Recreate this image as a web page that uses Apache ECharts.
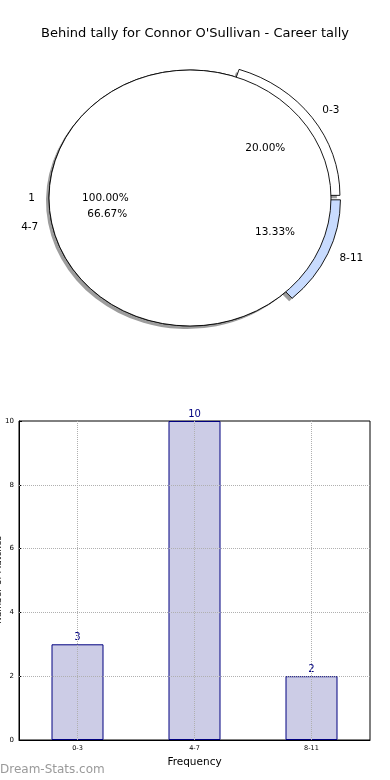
<!DOCTYPE html>
<html>
<head>
<meta charset="utf-8">
<script src="https://cdn.jsdelivr.net/npm/echarts@6/dist/echarts.min.js"></script>
<style>
html,body{margin:0;padding:0;background:#fff;}
#chart{width:390px;height:780px;}
</style>
</head>
<body>
<div id="chart"></div>
<script>
// ---- data ----
const chartTitle = "Behind tally for Connor O'Sullivan - Career tally";
const pieCategories = ['0-3', '4-7', '8-11'];
const pieValues = [3, 10, 2];
const pieExploded = [true, false, true];
const pieColors = ['#ffffff', '#ffffff', '#c8dbfe'];
const innerCategories = ['1'];
const innerValues = [1];
const barCategories = ['0-3', '4-7', '8-11'];
const barValues = [3, 10, 2];
const yTicks = [0, 2, 4, 6, 8, 10];
const yAxisName = 'Number of Matches';
const xAxisName = 'Frequency';
const watermark = 'Dream-Stats.com';

// ---- geometry / style ----
const FONT = 'DejaVu Sans';
const CX = 190, CY = 198, RX = 141, RY = 128;
const SHAPE_EXPLODE = 0.035, GROW = 0.035, LABEL_EXPLODE = 0.06;
const SH_DX = -3, SH_DY = 3;

function angles(values, i) {
  const total = values.reduce((a, b) => a + b, 0);
  let before = 0;
  for (let k = 0; k < i; k++) before += values[k];
  const t1 = before / total * Math.PI * 2;
  const t2 = (before + values[i]) / total * Math.PI * 2;
  return [t1, t2, total];
}
function wedgePath(ox, oy, rx, ry, t1, t2) {
  if (t2 - t1 >= Math.PI * 2 - 1e-9) {
    return `M ${ox + rx} ${oy} A ${rx} ${ry} 0 1 0 ${ox - rx} ${oy} A ${rx} ${ry} 0 1 0 ${ox + rx} ${oy} Z`;
  }
  const x1 = ox + rx * Math.cos(t1), y1 = oy - ry * Math.sin(t1);
  const x2 = ox + rx * Math.cos(t2), y2 = oy - ry * Math.sin(t2);
  const large = (t2 - t1) > Math.PI ? 1 : 0;
  return `M ${ox} ${oy} L ${x1} ${y1} A ${rx} ${ry} 0 ${large} 0 ${x2} ${y2} Z`;
}
function pct(v, total) { return (v / total * 100).toFixed(2) + '%'; }

function makeShapes(values, exploded, colors, withShadow) {
  return function (params, api) {
    const i = params.dataIndex;
    const [t1, t2] = angles(values, i);
    const mid = (t1 + t2) / 2;
    const ex = exploded[i];
    const e = ex ? SHAPE_EXPLODE : 0;
    const g = ex ? GROW : 0;
    const ox = CX + RX * e * Math.cos(mid), oy = CY - RY * e * Math.sin(mid);
    const rx = RX * (1 + g), ry = RY * (1 + g);
    const children = [];
    if (withShadow) {
      children.push({
        type: 'path',
        shape: { pathData: wedgePath(ox + SH_DX, oy + SH_DY, rx, ry, t1, t2) },
        style: { fill: 'rgba(60,60,60,0.5)', stroke: null }
      });
    }
    children.push({
      type: 'path',
      shape: { pathData: wedgePath(ox, oy, rx, ry, t1, t2) },
      style: { fill: colors[i], stroke: '#000', lineWidth: 0.9 }
    });
    return { type: 'group', children: children };
  };
}
function makeLabels(values, labels, exploded) {
  return function (params, api) {
    const i = params.dataIndex;
    const [t1, t2, total] = angles(values, i);
    const mid = (t1 + t2) / 2;
    const le = exploded[i] ? LABEL_EXPLODE : 0;
    const c = Math.cos(mid), s = Math.sin(mid);
    return { type: 'group', children: [
      {
        type: 'text',
        x: CX + RX * (1.1 + le) * c, y: CY - RY * (1.1 + le) * s,
        style: { text: labels[i], fill: '#000', fontSize: 10.5, fontFamily: FONT,
                 align: c > 0.001 ? 'left' : 'right', verticalAlign: 'middle' }
      },
      {
        type: 'text',
        x: CX + RX * (0.6 + le) * c, y: CY - RY * (0.6 + le) * s,
        style: { text: pct(values[i], total), fill: '#000', fontSize: 10.5, fontFamily: FONT,
                 align: 'center', verticalAlign: 'middle' }
      }
    ] };
  };
}

const chart = echarts.init(document.getElementById('chart'), null, { renderer: 'canvas' });
const option = {
  animation: false,
  backgroundColor: '#fff',
  title: {
    text: chartTitle, left: 'center', top: 22,
    textStyle: { fontFamily: FONT, fontSize: 13, fontWeight: 'normal', color: '#000' }
  },
  graphic: [
    {
      type: 'text', left: 0, top: 764,
      style: { text: watermark, fill: '#9a9a9a', fontSize: 12, fontFamily: FONT }
    },
    {
      type: 'text', x: -1, y: 580, rotation: Math.PI / 2,
      style: { text: yAxisName, fill: '#000', fontSize: 9, fontFamily: FONT, align: 'center', verticalAlign: 'middle' }
    }
  ],
  grid: { left: 19, right: 20, top: 421, bottom: 40, show: true, borderColor: '#000', borderWidth: 1,
          backgroundColor: 'rgba(0,0,0,0)', containLabel: false, outerBoundsMode: 'none' },
  xAxis: {
    type: 'category', data: barCategories,
    axisLine: { lineStyle: { color: '#000', width: 1 } },
    axisTick: { show: false },
    axisLabel: { fontSize: 6.5, fontFamily: FONT, color: '#000', margin: 5 },
    splitLine: { show: false },
    name: xAxisName, nameLocation: 'middle', nameGap: 17,
    nameTextStyle: { fontSize: 10.5, fontFamily: FONT, color: '#000' }
  },
  yAxis: {
    type: 'value', min: yTicks[0], max: yTicks[yTicks.length - 1], interval: yTicks[1] - yTicks[0],
    axisLine: { show: true, lineStyle: { color: '#000', width: 1 } },
    axisTick: { show: true, inside: true, length: 3, lineStyle: { color: '#000' } },
    axisLabel: { fontSize: 7, fontFamily: FONT, color: '#000', margin: 5 },
    splitLine: { show: false }
  },
  series: [
    {
      type: 'custom', coordinateSystem: 'none', z: 2,
      data: pieValues.map((v, i) => [i, v]),
      renderItem: makeShapes(pieValues, pieExploded, pieColors, true)
    },
    {
      type: 'custom', coordinateSystem: 'none', z: 3,
      data: innerValues.map((v, i) => [i, v]),
      renderItem: makeShapes(innerValues, [false], ['#ffffff'], false)
    },
    {
      type: 'custom', coordinateSystem: 'none', z: 4,
      data: pieValues.map((v, i) => [i, v]),
      renderItem: makeLabels(pieValues, pieCategories, pieExploded)
    },
    {
      type: 'custom', coordinateSystem: 'none', z: 4,
      data: innerValues.map((v, i) => [i, v]),
      renderItem: makeLabels(innerValues, innerCategories, [false])
    },
    {
      type: 'bar', data: barValues, barWidth: 52,
      itemStyle: { color: '#ccccE6', borderColor: '#000080', borderWidth: 1 },
      label: { show: true, position: 'top', color: '#000080', fontSize: 10, fontFamily: FONT, distance: 2 },
      markLine: {
        silent: true, symbol: 'none', animation: false,
        label: { show: false },
        lineStyle: { type: 'dotted', color: '#b0b0b0', width: 1 },
        data: barCategories.map(c => ({ xAxis: c }))
          .concat(yTicks.slice(1, -1).map(v => ({ yAxis: v })))
      }
    }
  ]
};
chart.setOption(option);
</script>
</body>
</html>
